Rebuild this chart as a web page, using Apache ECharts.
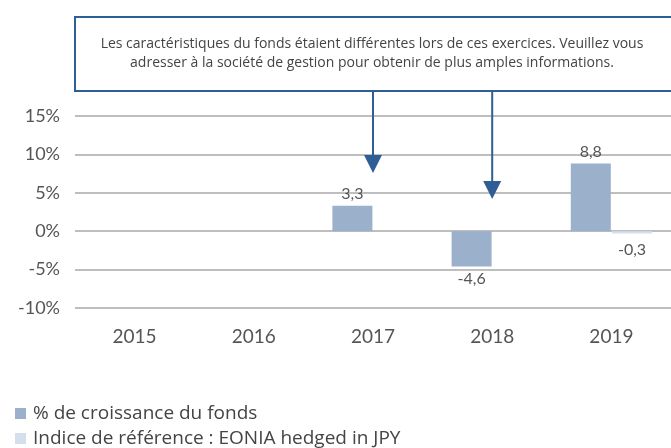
<!DOCTYPE html>
<html>
<head>
<meta charset="utf-8">
<script src="https://cdn.jsdelivr.net/npm/echarts@6/dist/echarts.min.js"></script>
<style>
  html, body { margin: 0; padding: 0; background: #fff; }
  #chart { width: 671px; height: 448px; }
</style>
</head>
<body>
<div id="chart"></div>
<script>
const years = ['2015', '2016', '2017', '2018', '2019'];
const fundValues = [null, null, 3.3, -4.6, 8.8];
const benchValues = [null, null, null, null, -0.3];
const yTicks = [-10, -5, 0, 5, 10, 15];
const seriesNames = ['% de croissance du fonds', 'Indice de référence : EONIA hedged in JPY'];
const noteLines = [
  'Les caractéristiques du fonds étaient différentes lors de ces exercices. Veuillez vous',
  'adresser à la société de gestion pour obtenir de plus amples informations.'
];
// années pointées par les flèches
const arrowYears = ['2017', '2018'];

const fontAxis = 'Lato, "Noto Sans", sans-serif';
const fontText = '"Open Sans", "Noto Sans", sans-serif';
const textColor = '#555';

const fmt = (v) => String(v).replace('.', ',');

const toItems = (arr) => arr.map(v => v === null ? null : ({
  value: v,
  label: { position: v < 0 ? 'bottom' : 'top' }
}));

const legendBase = {
  left: 10,
  icon: 'rect',
  itemWidth: 11,
  itemHeight: 11,
  textStyle: { fontSize: 19, color: '#444', fontFamily: fontText, padding: [0, 0, 0, 2] }
};

const chart = echarts.init(document.getElementById('chart'));

const option = {
  animation: false,
  textStyle: { fontFamily: fontAxis },
  grid: { left: 75, top: 116, width: 600, height: 192, containLabel: false },
  legend: [
    Object.assign({}, legendBase, { top: 399, data: [seriesNames[0]] }),
    Object.assign({}, legendBase, { top: 424, data: [seriesNames[1]] })
  ],
  xAxis: {
    type: 'category',
    data: years,
    axisLine: { show: false },
    axisTick: { show: false },
    axisLabel: { fontSize: 19, color: textColor, margin: 19 }
  },
  yAxis: {
    type: 'value',
    min: yTicks[0],
    max: yTicks[yTicks.length - 1],
    interval: 5,
    axisLine: { show: false },
    axisTick: { show: false },
    axisLabel: { fontSize: 18, color: textColor, margin: 15, formatter: '{value}%' },
    splitLine: { lineStyle: { color: '#a9a9a9', width: 1.5 } }
  },
  series: [
    {
      name: seriesNames[0],
      type: 'bar',
      data: toItems(fundValues),
      barWidth: 40,
      barGap: '3%',
      itemStyle: { color: '#9bb0cb' },
      label: { show: true, fontSize: 16, color: textColor, distance: 4, formatter: p => fmt(p.value) }
    },
    {
      name: seriesNames[1],
      type: 'bar',
      data: toItems(benchValues),
      barWidth: 40,
      itemStyle: { color: '#d5dfeb' },
      label: { show: true, fontSize: 16, color: textColor, distance: 8, formatter: p => fmt(p.value) }
    }
  ]
};

chart.setOption(option);

// encadré + flèches
const arrowColor = '#2f5d95';
const boxTop = 17, boxBottom = 91;
const tips = [173, 199];
const graphics = [
  {
    type: 'rect',
    shape: { x: 75, y: boxTop, width: 610, height: boxBottom - boxTop },
    style: { fill: '#fff', stroke: arrowColor, lineWidth: 2 }
  },
  {
    type: 'text',
    x: 372, y: 54,
    style: {
      text: noteLines.join('\n'),
      align: 'center', verticalAlign: 'middle',
      fontSize: 14, lineHeight: 19, fill: '#444', fontFamily: fontText
    }
  }
];
arrowYears.forEach((yr, i) => {
  const x = chart.convertToPixel({ xAxisIndex: 0 }, yr);
  const tip = tips[i];
  graphics.push({
    type: 'line',
    shape: { x1: x, y1: boxBottom, x2: x, y2: tip - 14 },
    style: { stroke: arrowColor, lineWidth: 2 }
  });
  graphics.push({
    type: 'polygon',
    shape: { points: [[x - 9, tip - 18], [x + 9, tip - 18], [x, tip]] },
    style: { fill: arrowColor }
  });
});
chart.setOption({ graphic: graphics });
</script>
</body>
</html>
